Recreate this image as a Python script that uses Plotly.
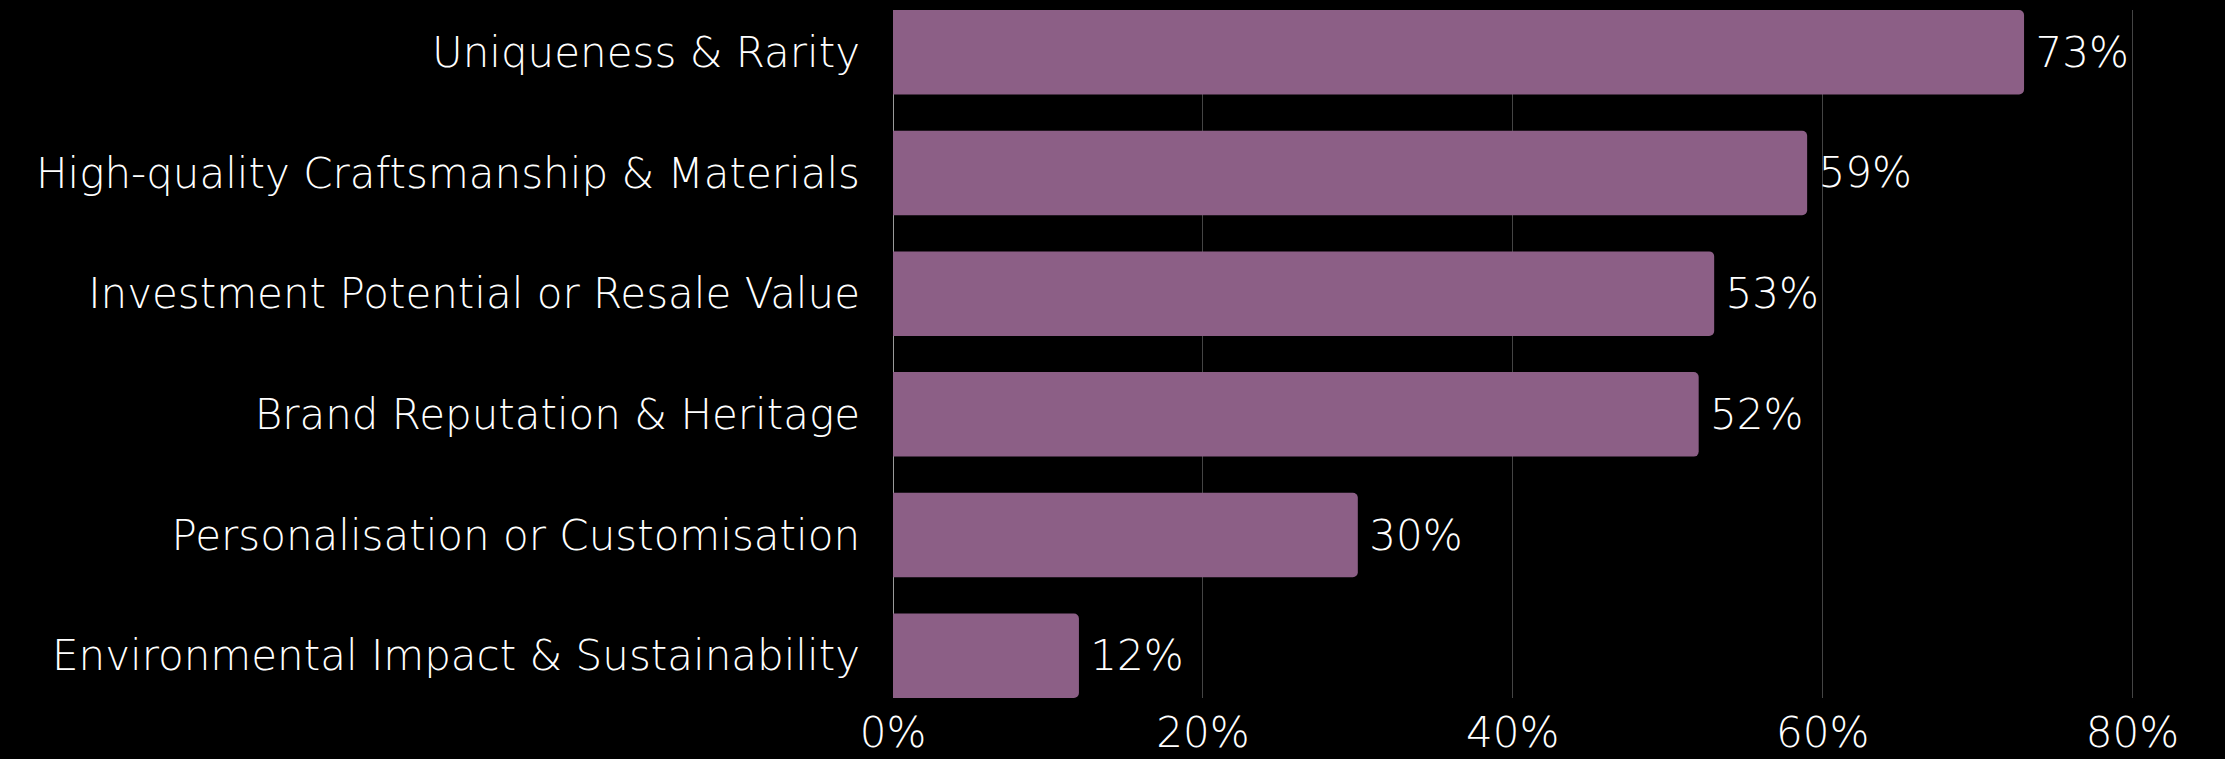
import plotly.graph_objects as go

# Survey results: share of respondents citing each factor
factors = [
    "Uniqueness & Rarity",
    "High-quality Craftsmanship & Materials",
    "Investment Potential or Resale Value",
    "Brand Reputation & Heritage",
    "Personalisation or Customisation",
    "Environmental Impact & Sustainability",
]
shares = [73, 59, 53, 52, 30, 12]
x_ticks = [0, 20, 40, 60, 80]
x_tick_labels = ["0%", "20%", "40%", "60%", "80%"]

BAR_COLOR = "#8C5F86"
FONT = dict(family="'DejaVu Sans', Lato, sans-serif", size=42, color="white", weight=200)

fig = go.Figure(
    go.Bar(
        x=shares,
        y=factors,
        orientation="h",
        marker=dict(color=BAR_COLOR, cornerradius=5, line=dict(width=0)),
        texttemplate="\u2009%{x}%",
        textposition="outside",
        constraintext="none",
        cliponaxis=False,
        textfont=FONT,
        hoverinfo="skip",
    )
)

fig.update_layout(
    width=2225,
    height=759,
    paper_bgcolor="black",
    plot_bgcolor="black",
    font=FONT,
    bargap=0.3,
    showlegend=False,
    margin=dict(l=893, r=77, t=10, b=61),
    xaxis=dict(
        range=[0, 81],
        tickvals=x_ticks,
        ticktext=x_tick_labels,
        showgrid=True,
        gridcolor="#444444",
        gridwidth=1,
        zeroline=True,
        zerolinecolor="#9a9a9a",
        zerolinewidth=1,
        showline=False,
        ticks="",
        tickfont=FONT,
        ticklabelstandoff=6,
        automargin=False,
    ),
    yaxis=dict(
        categoryorder="array",
        categoryarray=factors,
        range=[5.35, -0.35],
        showgrid=False,
        zeroline=False,
        showline=False,
        ticks="",
        tickfont=FONT,
        ticklabelstandoff=32,
        automargin=False,
    ),
)

fig.write_html("out.html")
